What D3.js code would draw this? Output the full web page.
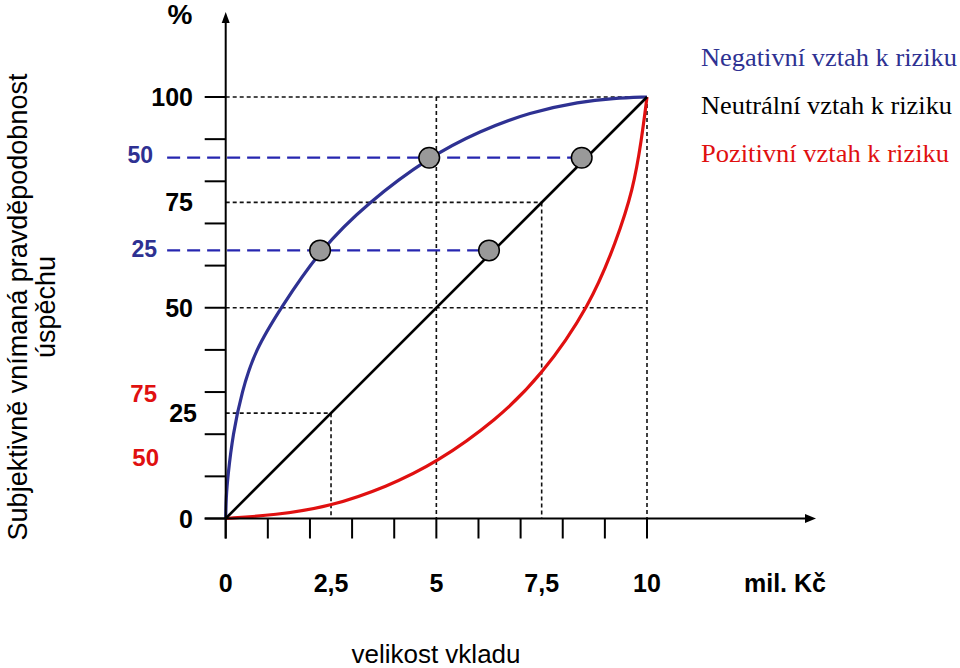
<!DOCTYPE html>
<html><head><meta charset="utf-8">
<script src="https://cdn.jsdelivr.net/npm/d3@7/dist/d3.min.js"></script>
<style>body{margin:0;background:#fff}svg{display:block}</style>
</head><body>
<script>
// ---- data ----
const xTickMarks = [0,1,2,3,4,5,6,7,8,9,10];
const xTickLabels = [0,2.5,5,7.5,10];
const yTickMarks = [0,10,20,30,40,50,60,70,80,90,100];
const yTickLabels = [0,25,50,75,100];
const negativeCurve = [[0,0],[0.01,5],[0.05,10],[0.17,20],[0.38,30],[0.70,40],[1.31,50],[2.24,63.8],[3.38,75],[4.83,85.8],[6.04,92.0],[7.22,96.4],[8.41,98.9],[9.2,99.7],[10,100]];
const neutralLine = [[0,0],[10,100]];
const positiveCurve = [[0,0],[1.17,0.8],[2.48,2.8],[3.82,7.5],[5.0,13.2],[6.43,23.4],[7.49,33.8],[8.65,50.5],[9.28,66],[9.67,78],[9.87,89.8],[10,100]];
const points = [[2.24,63.6],[6.25,63.6],[4.83,85.6],[8.45,85.6]];
const blueGuides = [{v:85.6, to:8.45},{v:63.6, to:6.25}];
const blueLabels = [{t:"50", v:86.3},{t:"25", v:64.1}];
const redLabels = [{t:"75", v:29.8},{t:"50", v:14.6}];
const blackGuides = [
  [[0,100],[10,100]],[[10,100],[10,0]],
  [[0,75],[7.5,75]],[[7.5,75],[7.5,0]],
  [[0,50],[10,50]],[[5,100],[5,0]],
  [[0,25],[2.5,25]],[[2.5,25],[2.5,0]]
];
const legendItems = ["Negativní vztah k riziku","Neutrální vztah k riziku","Pozitivní vztah k riziku"];

// ---- drawing ----
const W=960,H=668;
const BLUE="#2e3192", RED="#e01010", DBLUE="#2626b0";
const svg=d3.select("body").append("svg").attr("width",W).attr("height",H);
const x=d3.scaleLinear().domain([0,10]).range([225.7,647]);
const y=d3.scaleLinear().domain([0,100]).range([518.5,97]);
const line=d3.line().x(d=>x(d[0])).y(d=>y(d[1]));
const SANS="'Liberation Sans', Arial, sans-serif", SERIF="'Liberation Serif','Times New Roman',serif";

// black dashed guides
svg.append("g").selectAll("path").data(blackGuides).join("path")
  .attr("d",line).attr("fill","none").attr("stroke","#111").attr("stroke-width",1.6)
  .attr("stroke-dasharray","4,3");

// curves
svg.append("path").datum(positiveCurve).attr("d",line.curve(d3.curveBasis))
  .attr("fill","none").attr("stroke",RED).attr("stroke-width",3.2);
svg.append("path").datum(negativeCurve).attr("d",line.curve(d3.curveBasis))
  .attr("fill","none").attr("stroke",BLUE).attr("stroke-width",3.2);
svg.append("path").datum(neutralLine).attr("d",line.curve(d3.curveLinear))
  .attr("fill","none").attr("stroke","#000").attr("stroke-width",2.6);

// blue dashed guides
svg.append("g").selectAll("line").data(blueGuides).join("line")
  .attr("x1",x(-1.39)).attr("x2",d=>x(d.to)).attr("y1",d=>y(d.v)).attr("y2",d=>y(d.v))
  .attr("stroke",DBLUE).attr("stroke-width",2.2).attr("stroke-dasharray","13,7");

// axes
const ax=svg.append("g").attr("stroke","#000").attr("stroke-width",2);
ax.append("line").attr("x1",x(0)).attr("x2",x(0)).attr("y1",y(0)+20).attr("y2",20);
ax.append("line").attr("x1",x(0)-21).attr("x2",808).attr("y1",y(0)).attr("y2",y(0));
svg.append("path").attr("d",`M${x(0)},12 L${x(0)-4},23 L${x(0)+4},23 Z`).attr("fill","#000");
svg.append("path").attr("d",`M816,${y(0)} L805,${y(0)-4.5} L805,${y(0)+4.5} Z`).attr("fill","#000");
ax.selectAll(".xt").data(xTickMarks).join("line").attr("class","xt")
  .attr("x1",d=>x(d)).attr("x2",d=>x(d)).attr("y1",y(0)).attr("y2",y(0)+20);
ax.selectAll(".yt").data(yTickMarks).join("line").attr("class","yt")
  .attr("x1",x(0)-21).attr("x2",x(0)).attr("y1",d=>y(d)).attr("y2",d=>y(d));

// points
svg.append("g").selectAll("circle").data(points).join("circle")
  .attr("cx",d=>x(d[0])).attr("cy",d=>y(d[1])).attr("r",10.3)
  .attr("fill","#999").attr("stroke","#000").attr("stroke-width",1.5);

// tick labels
svg.append("g").selectAll("text").data(xTickLabels).join("text")
  .attr("x",d=>x(d)).attr("y",592).attr("text-anchor","middle")
  .attr("font-family",SANS).attr("font-weight","bold").attr("font-size",25)
  .text(d=>String(d).replace(".",","));
svg.append("text").attr("x",785).attr("y",592).attr("text-anchor","middle")
  .attr("font-family",SANS).attr("font-weight","bold").attr("font-size",25).text("mil. Kč");
svg.append("g").selectAll("text").data(yTickLabels).join("text")
  .attr("x",d=>d===25?197:193).attr("y",d=>y(d)+9).attr("text-anchor","end")
  .attr("font-family",SANS).attr("font-weight","bold").attr("font-size",25)
  .text(d=>d);
svg.append("text").attr("x",180).attr("y",24).attr("text-anchor","middle")
  .attr("font-family",SANS).attr("font-weight","bold").attr("font-size",28).text("%");
svg.append("g").selectAll("text").data(blueLabels).join("text")
  .attr("x",(d,i)=>i?157:153).attr("y",d=>y(d.v)+8.5).attr("text-anchor","end")
  .attr("font-family",SANS).attr("font-weight","bold").attr("font-size",23).attr("fill",BLUE)
  .text(d=>d.t);
svg.append("g").selectAll("text").data(redLabels).join("text")
  .attr("x",(d,i)=>i?159:157).attr("y",d=>y(d.v)+9).attr("text-anchor","end")
  .attr("font-family",SANS).attr("font-weight","bold").attr("font-size",24).attr("fill",RED)
  .text(d=>d.t);

// axis titles
svg.append("text").attr("x",436).attr("y",663).attr("text-anchor","middle")
  .attr("font-family",SANS).attr("font-size",26).text("velikost vkladu");
const yt=svg.append("text").attr("transform","translate(0,307) rotate(-90)")
  .attr("text-anchor","middle").attr("font-family",SANS).attr("font-size",27);
yt.append("tspan").attr("x",0).attr("y",27).text("Subjektivně vnímaná pravděpodobnost");
yt.append("tspan").attr("x",0).attr("y",55).text("úspěchu");

// legend
const legColors=[BLUE,"#000",RED];
const legLens=[256,251,248];
svg.append("g").selectAll("text").data(legendItems).join("text")
  .attr("x",701).attr("y",(d,i)=>66+i*48)
  .attr("font-family",SERIF).attr("font-size",26).attr("fill",(d,i)=>legColors[i])
  .attr("textLength",(d,i)=>legLens[i]).attr("lengthAdjust","spacingAndGlyphs")
  .text(d=>d);
</script>
</body></html>
